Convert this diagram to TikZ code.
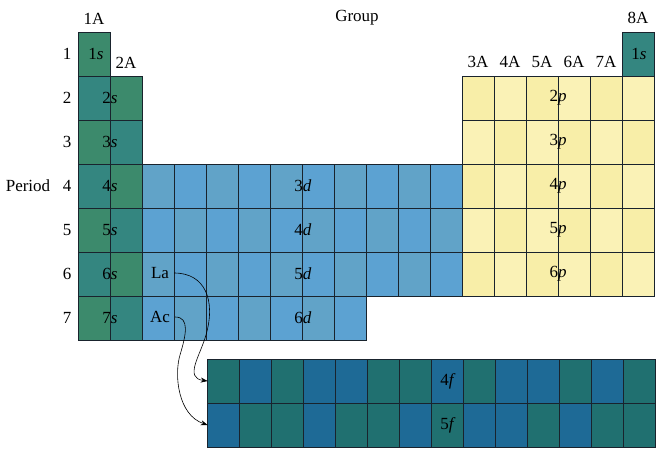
\documentclass[tikz,border=0pt]{standalone}
\usepackage{fontspec}
\setmainfont{Liberation Serif}
\usetikzlibrary{arrows.meta}
\definecolor{sblk0}{RGB}{60,138,108}
\definecolor{sblk1}{RGB}{52,134,128}
\definecolor{dblk0}{RGB}{92,162,210}
\definecolor{dblk1}{RGB}{97,163,200}
\definecolor{pblk0}{RGB}{250,242,182}
\definecolor{pblk1}{RGB}{248,238,168}
\definecolor{fblk0}{RGB}{32,112,112}
\definecolor{fblk1}{RGB}{30,106,150}
\definecolor{gridln}{RGB}{25,35,45}

\begin{document}
\begin{tikzpicture}[x=1pt,y=-1pt]
	\tikzstyle{cell} = [draw=gridln, line width=0.7pt]
	\tikzstyle{every node} = [font=\fontsize{17}{20}\selectfont, inner sep=1pt]
	\useasboundingbox (0,0) rectangle (664,450);
	\foreach \c/\rs in {1/1, 2/2} \foreach \r in {\rs,...,7} {\pgfmathtruncatemacro{\k}{mod(\r+\c,2)} \draw[cell, fill=sblk\k] (46+32*\c, 44*\r-12) rectangle +(32,44);}
	\draw[cell, fill=sblk1] (622,32) rectangle +(32,44);
	\foreach \r/\cmax in {4/12, 5/12, 6/12, 7/9} \foreach \c in {3,...,\cmax} {\pgfmathtruncatemacro{\k}{mod(\r+\c,2)} \draw[cell, fill=dblk\k] (46+32*\c, 44*\r-12) rectangle +(32,44);}
	\foreach \r in {2,...,6} \foreach \c in {13,...,18} {\pgfmathtruncatemacro{\k}{mod(\r+\c,2)} \draw[cell, fill=pblk\k] (46+32*\c, 44*\r-12) rectangle +(32,44);}
	\foreach \k [count=\i] in {0,1,0,1,1,0,0,1,0,1,1,0,1,0} \draw[cell, fill=fblk\k] (175.7+32*\i, 359) rectangle +(32,44);
	\foreach \k [count=\i] in {1,0,0,1,0,0,1,0,1,1,0,1,0,0} \draw[cell, fill=fblk\k] (175.7+32*\i, 403) rectangle +(32,44);
	
	\node (group) at (357,18) {Group}; \node (g1A) at (94,19) {1A}; \node (g2A) at (126,63) {2A}; \node (g8A) at (638,18) {8A};
	\foreach \g [count=\i from 13] in {3,...,7} \node (g\g A) at (62+32*\i, 62) {\g A};
	\node (period) at (28,186) {Period};
	\foreach \r in {1,...,7} \node (per\r) at (67, 44*\r+10) {\r};
	\node (s1) at (96,54) {1\textit{s}}; \node (s8A) at (639,54) {1\textit{s}};
	\foreach \r in {2,...,7} \node (s\r) at (110, 44*\r+10) {\r\textit{s}};
	\foreach \r [count=\n from 3] in {4,...,7} \node (d\n) at (303, 44*\r+10) {\n\textit{d}};
	\foreach \r [count=\n from 2] in {2,...,6} \node (p\n) at (558, 44*\r+10) {\n\textit{p}};
	\node (f4) at (448,381) {4\textit{f}}; \node (f5) at (448,425) {5\textit{f}};
	\node (La) at (160,273) {La}; \node (Ac) at (160,317) {Ac};
	\coordinate (lanth) at (207.7,381); \coordinate (actin) at (207.7,425);
	
	\draw[semithick, -{Stealth[length=7pt, width=5pt]}] ([xshift=4pt]La.east) .. controls (205,273) and (216,300) .. (206,335) .. controls (200,356) and (184,378) .. (lanth);
	\draw[semithick, -{Stealth[length=7pt, width=5pt]}] ([xshift=4pt]Ac.east) .. controls (190,317) and (186,335) .. (180,355) .. controls (174,375) and (178,415) .. (actin);
\end{tikzpicture}
\end{document}
